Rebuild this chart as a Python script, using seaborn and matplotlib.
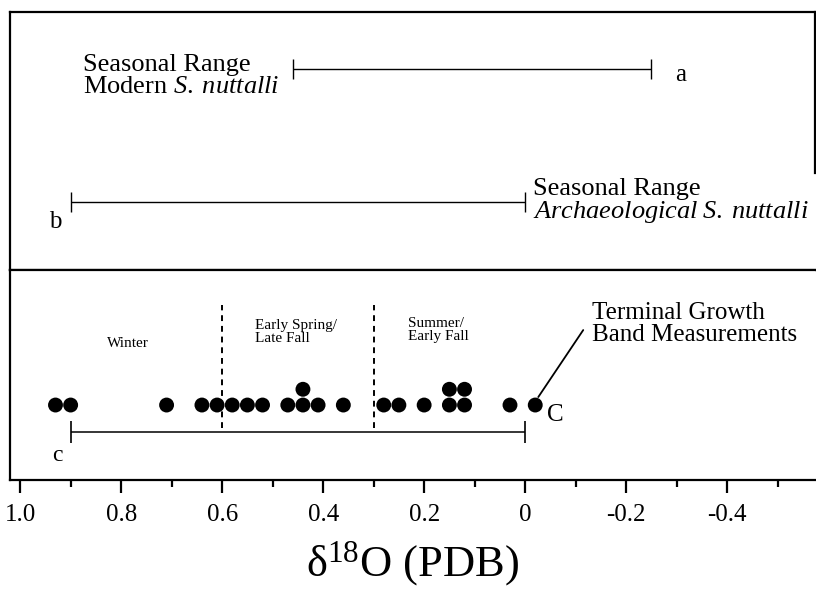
import numpy as np
import pandas as pd
import matplotlib
matplotlib.use('Agg')
import matplotlib.pyplot as plt
import seaborn as sns

d18o_values = [0.93, 0.90, 0.71, 0.64, 0.61, 0.58, 0.55, 0.52, 0.47, 0.44, 0.44,
               0.41, 0.36, 0.28, 0.25, 0.20, 0.15, 0.15, 0.12, 0.12, 0.03, -0.02]

# seasonal ranges: a = modern, b = archaeological, c = measured
range_names = ['a', 'b', 'c']
range_start = [0.46, 0.90, 0.90]
range_end = [-0.25, 0.00, 0.00]

# season boundaries
season_bounds = [0.6, 0.3]
season_names = ['Winter', 'Early Spring/\nLate Fall', 'Summer/\nEarly Fall']

tick_vals = [1.0, 0.8, 0.6, 0.4, 0.2, 0.0, -0.2, -0.4]
tick_labels = ['1.0', '0.8', '0.6', '0.4', '0.2', '0', '-0.2', '-0.4']

sns.set_theme(style='ticks')
plt.rcParams['font.family'] = ['Liberation Serif', 'DejaVu Serif']
plt.rcParams['mathtext.fontset'] = 'custom'
plt.rcParams['mathtext.rm'] = 'Liberation Serif'
plt.rcParams['mathtext.it'] = 'Liberation Serif:italic'
plt.rcParams['text.color'] = 'black'
plt.rcParams['axes.labelcolor'] = 'black'
plt.rcParams['xtick.color'] = 'black'
plt.rcParams['xtick.labelcolor'] = 'black'

fig = plt.figure(figsize=(8.16, 6), dpi=100)
ax_top = fig.add_axes([0.0123, 0.55, 0.9865, 0.43])
ax = fig.add_axes([0.0123, 0.20, 0.9865, 0.35], sharex=ax_top)

xlim = (1.02, -0.574)

# ---- top panel: modern and archaeological ranges
ax_top.errorbar(x=(range_start[0] + range_end[0]) / 2, y=0.779,
                xerr=(range_start[0] - range_end[0]) / 2, fmt='none',
                capsize=7, capthick=1, elinewidth=1, color='black')
ax_top.errorbar(x=(range_start[1] + range_end[1]) / 2, y=0.264,
                xerr=(range_start[1] - range_end[1]) / 2, fmt='none',
                capsize=7, capthick=1, elinewidth=1, color='black')
ax_top.text(0.875, 0.752, 'Seasonal Range\nModern $\\mathit{S.\\;nuttalli}$',
            fontsize=19, ha='left', va='center', linespacing=0.95)
ax_top.text(-0.016, 0.267, 'Seasonal Range\n$\\mathit{Archaeological\\;S.\\;nuttalli}$',
            fontsize=19, ha='left', va='center', linespacing=0.95)
ax_top.text(-0.307, 0.756, range_names[0], fontsize=18, ha='center', va='center')
ax_top.text(0.93, 0.186, range_names[1], fontsize=18, ha='center', va='center')
ax_top.set_ylim(0, 1)
ax_top.set_yticks([])
ax_top.tick_params(axis='x', which='both', bottom=False, labelbottom=False)
for s in ['left', 'top', 'bottom', 'right']:
    ax_top.spines[s].set_linewidth(1.6)
    ax_top.spines[s].set_color('black')
ax_top.spines['right'].set_bounds(0.376, 1)

# ---- bottom panel: dot plot of measurements
df = pd.DataFrame({'d18O': d18o_values})
df['level'] = df.groupby('d18O').cumcount()
df['y'] = 0.357 + df['level'] * 0.075
sns.scatterplot(data=df, x='d18O', y='y', ax=ax, color='black', s=115,
                edgecolor='none', legend=False)

for b in season_bounds:
    ax.vlines(b, 0.248, 0.833, color='black', linestyle=(0, (3, 2.5)), linewidth=1.4)

ax.errorbar(x=(range_start[2] + range_end[2]) / 2, y=0.229,
            xerr=(range_start[2] - range_end[2]) / 2, fmt='none',
            capsize=8, capthick=1.2, elinewidth=1.1, color='black')
ax.text(0.927, 0.119, range_names[2], fontsize=17, ha='center', va='center')
ax.text(-0.059, 0.31, 'C', fontsize=18, ha='center', va='center')

ax.text(0.786, 0.652, season_names[0], fontsize=11, ha='center', va='center')
ax.text(0.535, 0.705, season_names[1], fontsize=11, ha='left', va='center', linespacing=1.0)
ax.text(0.232, 0.714, season_names[2], fontsize=11, ha='left', va='center', linespacing=1.0)

ax.plot([-0.026, -0.115], [0.395, 0.714], color='black', linewidth=1.3)
ax.text(-0.133, 0.743, 'Terminal Growth\nBand Measurements', fontsize=18,
        ha='left', va='center', linespacing=1.05)

ax.set_xlim(*xlim)
ax.set_ylim(0, 1)
ax.set_yticks([])
ax.set_ylabel('')
ax.set_xticks(tick_vals)
ax.set_xticklabels(tick_labels)
ax.set_xticks(np.round(np.arange(0.9, -0.55, -0.2), 1), minor=True)
ax.tick_params(axis='x', which='major', direction='out', length=9, width=1.6,
               labelsize=18, pad=8, color='black')
ax.tick_params(axis='x', which='minor', direction='out', length=5, width=1.6, color='black')
for s in ['left', 'top', 'bottom']:
    ax.spines[s].set_linewidth(1.6)
    ax.spines[s].set_color('black')
ax.spines['right'].set_visible(False)
ax.set_xlabel('δ$^{18}$O (PDB)', fontsize=32, labelpad=10)

fig.savefig('out.png', dpi=100)
